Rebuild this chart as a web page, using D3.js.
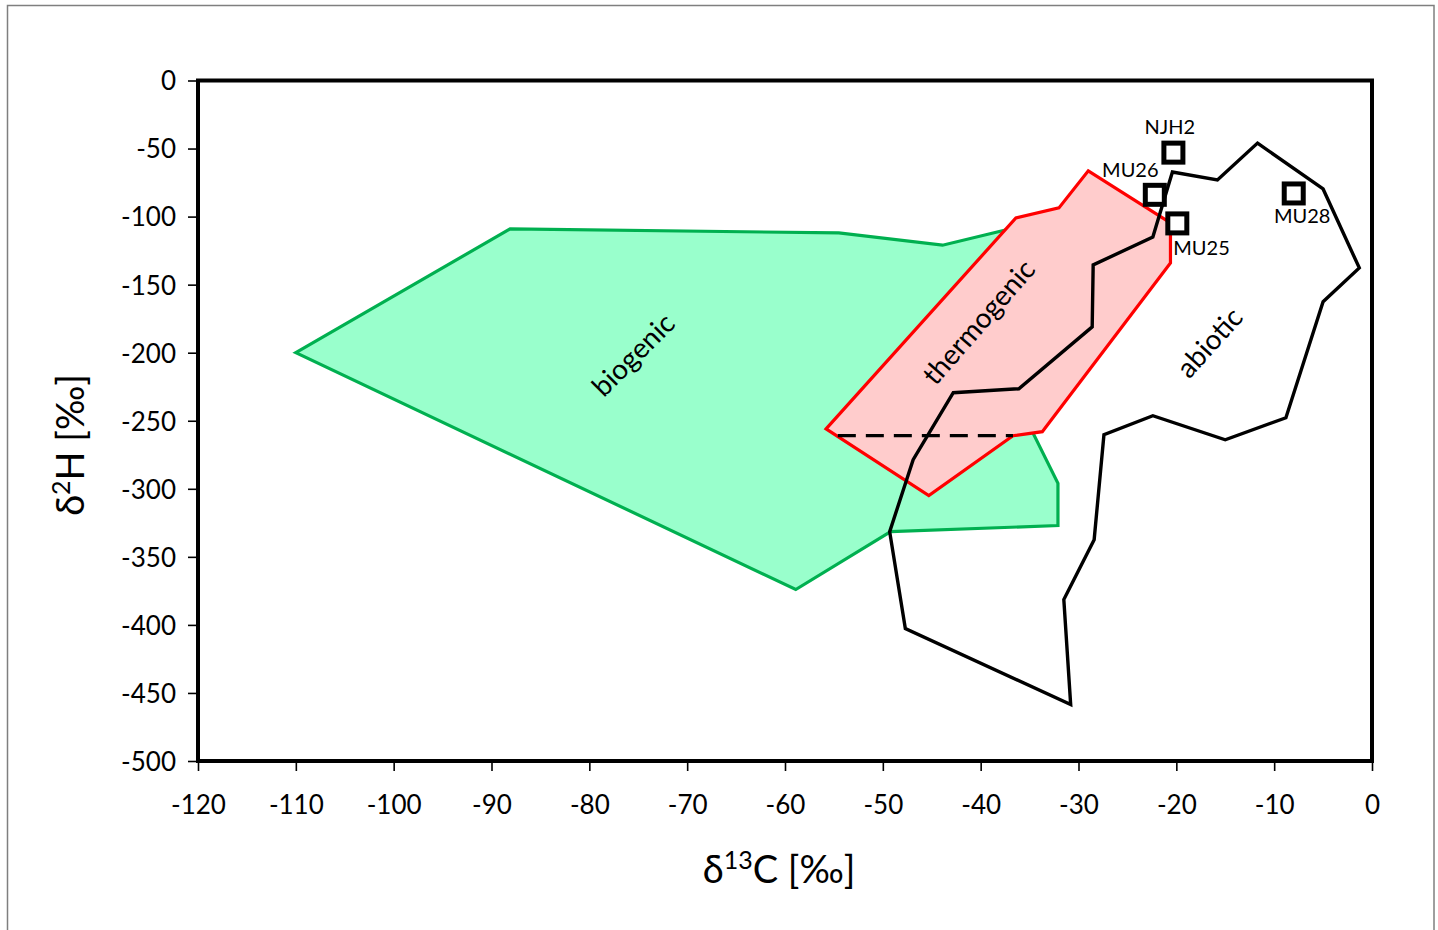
<!DOCTYPE html>
<html>
<head>
<meta charset="utf-8">
<script src="https://cdn.jsdelivr.net/npm/d3@7"></script>
<style>
  html, body { margin: 0; padding: 0; background: #fff; }
  svg { display: block; }
  text { font-family: Lato, "Open Sans", sans-serif; fill: #000; }
</style>
</head>
<body>
<svg id="chart" width="1438" height="930"></svg>
<script>
// ---- data ----
const xTicks = [-120, -110, -100, -90, -80, -70, -60, -50, -40, -30, -20, -10, 0];
const yTicks = [0, -50, -100, -150, -200, -250, -300, -350, -400, -450, -500];

const biogenic = [
  [-110, -200], [-88.1, -109], [-54.5, -112], [-43.9, -121], [-36.4, -108],
  [-36.1, -238], [-32.1, -296], [-32.1, -327], [-49.2, -331.5], [-58.9, -374]
];
const thermogenic = [
  [-55.8, -256], [-36.4, -101], [-32, -93.6], [-29, -66.4], [-20.6, -104.6],
  [-20.6, -134], [-33.7, -258], [-36.7, -261], [-45.3, -305]
];
const abiotic = [
  [-11.7, -46], [-5.0, -79.7], [-1.3, -137.7], [-5.0, -162.6], [-8.8, -247.8],
  [-15.0, -264], [-22.4, -246.3], [-27.4, -260.3], [-28.4, -337.4], [-31.5, -381.4],
  [-30.8, -458.5], [-47.7, -402.7], [-49.3, -331.5], [-46.9, -278.6], [-42.8, -229.4],
  [-36.1, -226.5], [-28.6, -181], [-28.5, -135.5], [-22.4, -115], [-20.4, -67.2],
  [-15.8, -73.1]
];
const dashedLine = [[-54.6, -261], [-36.7, -261]];

const sampleNames = ["NJH2", "MU26", "MU25", "MU28"];
const sampleC = [-20.3, -22.2, -19.9, -8.0];
const sampleH = [-53, -84, -105, -83];

const regionNames = ["biogenic", "thermogenic", "abiotic"];
const regionLabelC = [-75.6, -40.3, -16.7];
const regionLabelH = [-201, -177, -192];

// ---- chart ----
const svg = d3.select("#chart");
const x = d3.scaleLinear().domain([-120, 0]).range([198, 1372]);
const y = d3.scaleLinear().domain([0, -500]).range([80.5, 761]);

// outer frame
svg.append("rect").attr("x", 7.5).attr("y", 5.5).attr("width", 1426.5).attr("height", 930)
  .attr("fill", "none").attr("stroke", "#7f7f7f").attr("stroke-width", 1.5);

const line = d3.line().x(d => x(d[0])).y(d => y(d[1]));
const poly = pts => line(pts) + "Z";

svg.append("path").attr("d", poly(biogenic))
  .attr("fill", "#99FFCC").attr("stroke", "#00B050").attr("stroke-width", 3.2)
  .attr("stroke-linejoin", "miter");
svg.append("path").attr("d", poly(thermogenic))
  .attr("fill", "#FFCCCC").attr("stroke", "#FF0000").attr("stroke-width", 3.2)
  .attr("stroke-linejoin", "miter");
svg.append("path").attr("d", line(dashedLine))
  .attr("fill", "none").attr("stroke", "#000").attr("stroke-width", 3.2)
  .attr("stroke-dasharray", "18,10");
svg.append("path").attr("d", poly(abiotic))
  .attr("fill", "none").attr("stroke", "#000").attr("stroke-width", 3.4)
  .attr("stroke-linejoin", "miter");

// region labels
const angles = [-45, -49, -48];
regionNames.forEach((n, i) => {
  svg.append("text")
    .attr("transform", `translate(${x(regionLabelC[i])},${y(regionLabelH[i])}) rotate(${angles[i]})`)
    .attr("text-anchor", "middle").attr("dominant-baseline", "central")
    .attr("font-size", 28).text(n);
});

// axes (hyphen-minus labels as in the reference)
const fmt = d => String(d);
const gx = svg.append("g").attr("transform", `translate(0,${y(-500)})`)
  .call(d3.axisBottom(x).tickValues(xTicks).tickSize(10).tickPadding(25).tickFormat(fmt));
const gy = svg.append("g").attr("transform", `translate(${x(-120)},0)`)
  .call(d3.axisLeft(y).tickValues(yTicks).tickSize(10).tickPadding(12).tickFormat(fmt));
[gx, gy].forEach(g => {
  g.select(".domain").remove();
  g.selectAll(".tick line").attr("stroke", "#000").attr("stroke-width", 1.6);
  g.selectAll(".tick text").attr("font-size", 26).attr("font-family", "Lato, sans-serif");
});
gy.selectAll(".tick text").attr("dy", "0.36em");

// plot frame
svg.append("rect").attr("x", x(-120)).attr("y", y(0))
  .attr("width", x(0) - x(-120)).attr("height", y(-500) - y(0))
  .attr("fill", "none").attr("stroke", "#000").attr("stroke-width", 4);

// samples
const labelOffsets = [[-3.5, -19, "middle"], [-24.5, -18, "middle"], [-4, 32, "start"], [8.5, 30, "middle"]];
sampleNames.forEach((n, i) => {
  const cx = x(sampleC[i]), cy = y(sampleH[i]);
  svg.append("rect").attr("x", cx - 9.5).attr("y", cy - 9.5).attr("width", 19).attr("height", 19)
    .attr("fill", "#fff").attr("stroke", "#000").attr("stroke-width", 5);
  svg.append("text").attr("x", cx + labelOffsets[i][0]).attr("y", cy + labelOffsets[i][1])
    .attr("text-anchor", labelOffsets[i][2]).attr("font-size", 20).text(n);
});

// axis titles
const xt = svg.append("text").attr("x", 779).attr("y", 883).attr("text-anchor", "middle")
  .attr("font-size", 38);
xt.append("tspan").text("δ");
xt.append("tspan").attr("font-size", 25).attr("dy", -14).text("13");
xt.append("tspan").attr("dy", 14).text("C [‰]");

const yt = svg.append("text").attr("transform", "translate(84,445) rotate(-90)")
  .attr("text-anchor", "middle").attr("font-size", 38);
yt.append("tspan").text("δ");
yt.append("tspan").attr("font-size", 25).attr("dy", -14).text("2");
yt.append("tspan").attr("dy", 14).text("H [‰]");
</script>
</body>
</html>
